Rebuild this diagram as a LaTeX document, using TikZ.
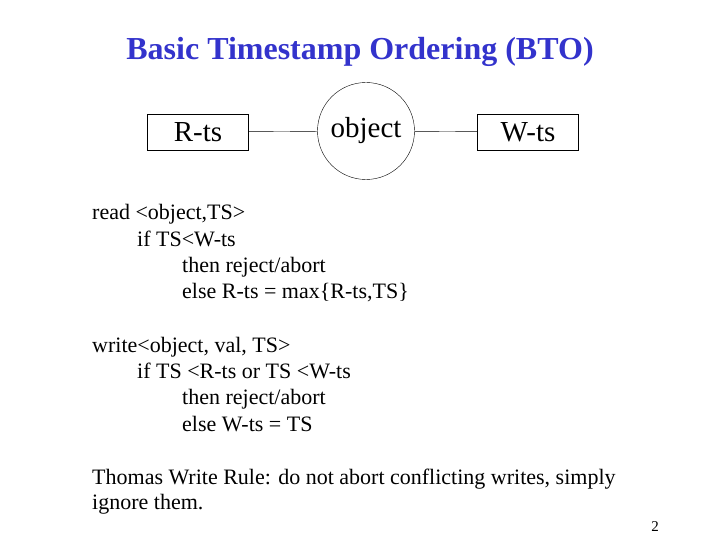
\documentclass[tikz,border=0pt]{standalone}
\usepackage{fontspec}
\setmainfont{Liberation Serif}
\usetikzlibrary{positioning}
\definecolor{titleBlue}{HTML}{3333CC}
\tikzset{
  tsbox/.style={draw, minimum width=101pt, minimum height=36pt, font=\fontsize{29}{32}\selectfont},
  codeline/.style={anchor=base west, inner sep=0pt, font=\fontsize{22}{25}\selectfont},
}
\begin{document}
\begin{tikzpicture}[x=1pt,y=-1pt]
    \useasboundingbox (0,0) rectangle (720,540);
    \node[text=titleBlue, anchor=base, font=\bfseries\fontsize{32}{36}\selectfont] (title) at (360,60) {Basic Timestamp Ordering (BTO)};

    % object with its two timestamps
    \node[tsbox] (rts) at (198,132) {R-ts};
    \node[draw, circle, minimum size=97pt, inner sep=0pt, font=\fontsize{29}{32}\selectfont] (obj) at (366,131) {object};
    \node[tsbox] (wts) at (528,132) {W-ts};
    \draw (rts) -- (obj);
    \draw (obj) -- (wts);

    % read rule
    \node[codeline] (r1) at (92,220) {read <object,TS>};
    \node[codeline] (r2) at (137,246) {if TS<W-ts};
    \node[codeline] (r3) at (182,272) {then reject/abort};
    \node[codeline] (r4) at (182,298) {else R-ts = max\{R-ts,TS\}};

    % write rule
    \node[codeline] (w1) at (92,352) {write<object, val, TS>};
    \node[codeline] (w2) at (137,378) {if TS <R-ts or TS <W-ts};
    \node[codeline] (w3) at (182,404) {then reject/abort};
    \node[codeline] (w4) at (182,431) {else W-ts = TS};

    \node[codeline] (t1) at (92,484) {Thomas Write Rule: do not abort conflicting writes, simply};
    \node[codeline] (t2) at (92,509) {ignore them.};

    \node[font=\fontsize{15}{17}\selectfont] (page) at (655,527) {2};
\end{tikzpicture}
\end{document}
